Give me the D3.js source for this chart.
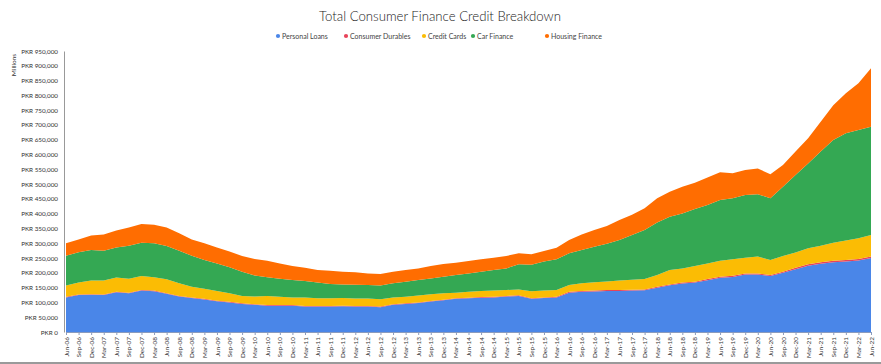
<!DOCTYPE html>
<html>
<head>
<meta charset="utf-8">
<script src="https://cdn.jsdelivr.net/npm/d3@7/dist/d3.min.js"></script>
<style>
  html, body { margin: 0; padding: 0; background: #fff; }
  svg { display: block; font-family: Lato, "Open Sans", sans-serif; }
</style>
</head>
<body>
<svg id="chart" width="881" height="364"></svg>
<script>
// Quarter labels (x-axis)
const quarters = [
  "Jun-06","Sep-06","Dec-06","Mar-07","Jun-07","Sep-07","Dec-07","Mar-08",
  "Jun-08","Sep-08","Dec-08","Mar-09","Jun-09","Sep-09","Dec-09","Mar-10",
  "Jun-10","Sep-10","Dec-10","Mar-11","Jun-11","Sep-11","Dec-11","Mar-12",
  "Jun-12","Sep-12","Dec-12","Mar-13","Jun-13","Sep-13","Dec-13","Mar-14",
  "Jun-14","Sep-14","Dec-14","Mar-15","Jun-15","Sep-15","Dec-15","Mar-16",
  "Jun-16","Sep-16","Dec-16","Mar-17","Jun-17","Sep-17","Dec-17","Mar-18",
  "Jun-18","Sep-18","Dec-18","Mar-19","Jun-19","Sep-19","Dec-19","Mar-20",
  "Jun-20","Sep-20","Dec-20","Mar-21","Jun-21","Sep-21","Dec-21","Mar-22",
  "Jun-22"
];

// Series values, PKR millions
const personalLoans = [
  117000,125000,126000,125000,134000,131000,140000,138000,
  129000,120000,115000,110000,104000,100000,95000,92000,
  89000,89000,89000,86000,86000,86000,87000,86000,
  86000,84000,92000,95000,98000,103000,107000,112000,
  114000,116000,117000,120000,122000,112000,115000,117000,
  133000,136000,137000,139000,139000,140000,141000,150000,
  158000,164000,167000,175000,183000,186000,194000,194000,
  189000,200000,212000,224000,231000,236000,238000,242000,
  250000
];
const consumerDurables = [
  2000,2000,2000,2000,2000,2000,2000,2000,
  2000,2000,2000,2000,2000,2000,2000,2000,
  2000,2000,2000,2000,2000,2000,2000,2000,
  2000,2000,2000,2000,2000,2000,2000,2000,
  2000,2000,2000,2000,2000,2000,2000,2000,
  3000,3000,3000,3000,3000,3000,3000,3000,
  3000,3000,3000,4000,4000,4000,4000,4000,
  4000,4000,5000,5000,5000,5000,5000,5000,
  5000
];
const creditCards = [
  38000,40000,46000,47000,48000,47000,47000,45000,
  47000,43000,36000,34000,33000,29000,25000,26000,
  31000,28000,26000,29000,26000,26000,26000,25000,
  25000,25000,23000,22000,23000,23000,22000,19000,
  20000,21000,21000,20000,20000,24000,23000,23000,
  23000,26000,28000,29000,32000,34000,35000,40000,
  49000,48000,53000,53000,54000,56000,53000,57000,
  50000,53000,52000,54000,56000,61000,66000,70000,
  73000
];
const carFinance = [
  101000,103000,103000,101000,102000,112000,113000,115000,
  113000,110000,105000,97000,93000,88000,82000,71000,
  63000,61000,59000,55000,53000,48000,46000,47000,
  46000,46000,48000,51000,53000,53000,56000,60000,
  62000,65000,70000,73000,85000,89000,98000,104000,
  107000,112000,120000,127000,137000,151000,166000,177000,
  180000,186000,193000,197000,205000,206000,212000,211000,
  209000,234000,262000,287000,318000,347000,363000,366000,
  366000
];
const housingFinance = [
  42000,43000,49000,55000,57000,61000,63000,63000,
  62000,59000,55000,57000,54000,53000,53000,56000,
  56000,52000,47000,45000,43000,45000,43000,42000,
  39000,39000,39000,40000,39000,42000,43000,41000,
  42000,42000,41000,42000,37000,36000,36000,39000,
  45000,53000,57000,60000,68000,68000,73000,82000,
  84000,90000,89000,93000,94000,85000,85000,87000,
  81000,74000,79000,85000,101000,118000,135000,158000,
  198000
];

const seriesNames = ["Personal Loans","Consumer Durables","Credit Cards","Car Finance","Housing Finance"];
const seriesColors = ["#4a86e8","#e8435a","#fbbc04","#34a853","#ff6d01"];
const yTicks = [0,50000,100000,150000,200000,250000,300000,350000,400000,450000,
  500000,550000,600000,650000,700000,750000,800000,850000,900000,950000];

const keys = ["pl","cd","cc","cf","hf"];
const rows = quarters.map((q, i) => ({
  q,
  pl: personalLoans[i],
  cd: consumerDurables[i],
  cc: creditCards[i],
  cf: carFinance[i],
  hf: housingFinance[i]
}));

const svg = d3.select("#chart");
const mLeft = 66, mRight = 871, mTop = 51, mBottom = 332;

const x = d3.scalePoint().domain(quarters).range([mLeft, mRight]);
const y = d3.scaleLinear().domain([0, 950000]).range([mBottom, mTop]);

// Title
svg.append("text")
  .attr("x", 440).attr("y", 21)
  .attr("text-anchor", "middle")
  .attr("font-size", 13.2)
  .attr("font-weight", 300)
  .attr("fill", "#222")
  .text("Total Consumer Finance Credit Breakdown");

// Legend
const legendX = [278, 346, 424, 473, 547];
const lg = svg.append("g");
seriesNames.forEach((n, i) => {
  lg.append("circle").attr("cx", legendX[i]).attr("cy", 36).attr("r", 2.1).attr("fill", seriesColors[i]);
  lg.append("text").attr("x", legendX[i] + 4).attr("y", 38.5)
    .attr("font-size", 7).attr("fill", "#444").text(n);
});

// Stack
const stack = d3.stack().keys(keys);
const layers = stack(rows);
const area = d3.area()
  .x(d => x(d.data.q))
  .y0(d => y(d[0]))
  .y1(d => y(d[1]));

svg.append("g").selectAll("path")
  .data(layers)
  .join("path")
  .attr("d", area)
  .attr("fill", (d, i) => seriesColors[i]);

// Y axis
const yAxis = d3.axisLeft(y)
  .tickValues(yTicks)
  .tickSize(0)
  .tickPadding(6)
  .tickFormat(v => "PKR " + d3.format(",")(v));
const ya = svg.append("g").attr("transform", `translate(${mLeft - 2},0)`).call(yAxis);
ya.select(".domain").attr("stroke", "#999").attr("stroke-width", 1);
ya.selectAll("text").attr("font-size", 6.3).attr("fill", "#333").attr("font-family", "Lato, sans-serif");

// Y axis title
svg.append("text")
  .attr("transform", "translate(16,65) rotate(-90)")
  .attr("text-anchor", "middle")
  .attr("font-size", 6.5)
  .attr("fill", "#333")
  .text("Millions");

// X axis
const xAxis = d3.axisBottom(x).tickSize(3).tickPadding(2);
const xa = svg.append("g").attr("transform", `translate(0,${mBottom})`).call(xAxis);
xa.select(".domain").attr("stroke", "#8a9bbd").attr("stroke-width", 1);
xa.selectAll(".tick line").attr("stroke", "#8a9bbd");
xa.selectAll("text")
  .attr("font-size", 6.4)
  .attr("fill", "#333")
  .attr("font-family", "Lato, sans-serif")
  .attr("text-anchor", "end")
  .attr("dy", "0.32em")
  .attr("transform", "translate(0,5) rotate(-90)")
  .attr("x", 0).attr("y", 0);

// bottom frame line
svg.append("rect").attr("x", 0).attr("y", 362).attr("width", 881).attr("height", 2).attr("fill", "#9a9a9a");
</script>
</body>
</html>
